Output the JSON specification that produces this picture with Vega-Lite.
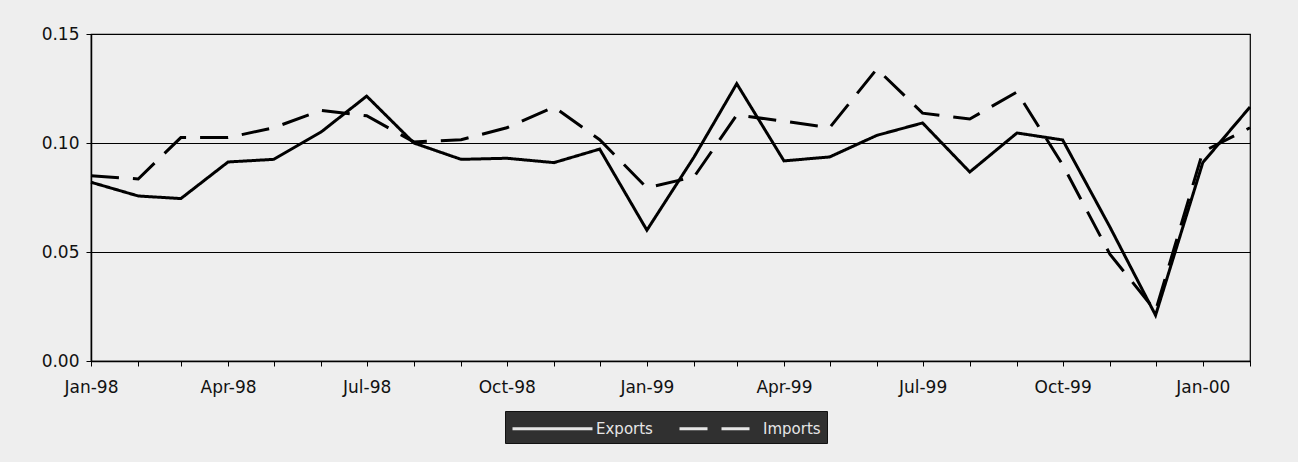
{
  "$schema": "https://vega.github.io/schema/vega-lite/v6.json",
  "width": 1159,
  "height": 327,
  "autosize": {"type": "none"},
  "padding": {"left": 91, "top": 34, "right": 48, "bottom": 101},
  "background": "#eeeeee",
  "config": {
    "view": {"stroke": "#000000", "strokeWidth": 1.2, "fill": "#eeeeee"},
    "font": "DejaVu Sans",
    "axis": {"labelFont": "DejaVu Sans", "labelFontSize": 17, "labelColor": "#111111", "domainColor": "#000000", "tickColor": "#000000", "gridColor": "#000000", "gridOpacity": 1, "gridWidth": 1, "domainWidth": 1.5, "title": null}
  },
  "data": {
    "values": [
      {"date": "1998-01-01", "series": "Exports", "value": 0.082},
      {"date": "1998-02-01", "series": "Exports", "value": 0.0757},
      {"date": "1998-03-01", "series": "Exports", "value": 0.0745},
      {"date": "1998-04-01", "series": "Exports", "value": 0.0913},
      {"date": "1998-05-01", "series": "Exports", "value": 0.0925},
      {"date": "1998-06-01", "series": "Exports", "value": 0.105},
      {"date": "1998-07-01", "series": "Exports", "value": 0.1215},
      {"date": "1998-08-01", "series": "Exports", "value": 0.1},
      {"date": "1998-09-01", "series": "Exports", "value": 0.0925},
      {"date": "1998-10-01", "series": "Exports", "value": 0.093},
      {"date": "1998-11-01", "series": "Exports", "value": 0.091},
      {"date": "1998-12-01", "series": "Exports", "value": 0.0972},
      {"date": "1999-01-01", "series": "Exports", "value": 0.06},
      {"date": "1999-02-01", "series": "Exports", "value": 0.0936},
      {"date": "1999-03-01", "series": "Exports", "value": 0.1272},
      {"date": "1999-04-01", "series": "Exports", "value": 0.0918},
      {"date": "1999-05-01", "series": "Exports", "value": 0.0936},
      {"date": "1999-06-01", "series": "Exports", "value": 0.1035},
      {"date": "1999-07-01", "series": "Exports", "value": 0.1092},
      {"date": "1999-08-01", "series": "Exports", "value": 0.0867},
      {"date": "1999-09-01", "series": "Exports", "value": 0.1046},
      {"date": "1999-10-01", "series": "Exports", "value": 0.1014},
      {"date": "1999-11-01", "series": "Exports", "value": 0.0615},
      {"date": "1999-12-01", "series": "Exports", "value": 0.021},
      {"date": "2000-01-01", "series": "Exports", "value": 0.091},
      {"date": "2000-02-01", "series": "Exports", "value": 0.1165},
      {"date": "1998-01-01", "series": "Imports", "value": 0.085},
      {"date": "1998-02-01", "series": "Imports", "value": 0.0835},
      {"date": "1998-03-01", "series": "Imports", "value": 0.1025},
      {"date": "1998-04-01", "series": "Imports", "value": 0.1025},
      {"date": "1998-05-01", "series": "Imports", "value": 0.107},
      {"date": "1998-06-01", "series": "Imports", "value": 0.115},
      {"date": "1998-07-01", "series": "Imports", "value": 0.1125},
      {"date": "1998-08-01", "series": "Imports", "value": 0.1005},
      {"date": "1998-09-01", "series": "Imports", "value": 0.1015},
      {"date": "1998-10-01", "series": "Imports", "value": 0.107},
      {"date": "1998-11-01", "series": "Imports", "value": 0.1165},
      {"date": "1998-12-01", "series": "Imports", "value": 0.1015},
      {"date": "1999-01-01", "series": "Imports", "value": 0.0794},
      {"date": "1999-02-01", "series": "Imports", "value": 0.0845},
      {"date": "1999-03-01", "series": "Imports", "value": 0.1128},
      {"date": "1999-04-01", "series": "Imports", "value": 0.11},
      {"date": "1999-05-01", "series": "Imports", "value": 0.107},
      {"date": "1999-06-01", "series": "Imports", "value": 0.134},
      {"date": "1999-07-01", "series": "Imports", "value": 0.1137},
      {"date": "1999-08-01", "series": "Imports", "value": 0.111},
      {"date": "1999-09-01", "series": "Imports", "value": 0.1234},
      {"date": "1999-10-01", "series": "Imports", "value": 0.09},
      {"date": "1999-11-01", "series": "Imports", "value": 0.049},
      {"date": "1999-12-01", "series": "Imports", "value": 0.023},
      {"date": "2000-01-01", "series": "Imports", "value": 0.096},
      {"date": "2000-02-01", "series": "Imports", "value": 0.107}
    ]
  },
  "mark": {"type": "line", "color": "#000000", "strokeWidth": 3, "strokeJoin": "miter"},
  "encoding": {
    "x": {
      "field": "date",
      "type": "temporal",
      "scale": {"type": "utc", "domain": [{"year": 1998, "month": 1, "date": 1, "utc": true}, {"year": 2000, "month": 2, "date": 1, "utc": true}], "nice": false},
      "axis": {
        "grid": false,
        "tickCount": {"interval": "month", "step": 1},
        "tickSize": 5,
        "labelPadding": 13,
        "labelOverlap": false,
        "labelFlush": false,
        "labelExpr": "utcmonth(datum.value) % 3 == 0 ? utcFormat(datum.value, '%b-%y') : ''"
      }
    },
    "y": {
      "field": "value",
      "type": "quantitative",
      "scale": {"domain": [0, 0.15], "nice": false, "zero": true},
      "axis": {"values": [0, 0.05, 0.1, 0.15], "format": ".2f", "grid": true, "tickSize": 5, "labelPadding": 7}
    },
    "strokeDash": {
      "field": "series",
      "type": "nominal",
      "scale": {"domain": ["Exports", "Imports"], "range": [[1, 0], [28, 14]]},
      "legend": {
        "title": null,
        "orient": "none",
        "legendX": 414,
        "legendY": 377,
        "direction": "horizontal",
        "fillColor": "#303030",
        "strokeColor": "#111111",
        "padding": 6,
        "symbolType": "M-1,0H7",
        "symbolSize": 400,
        "symbolStrokeWidth": 3,
        "symbolStrokeColor": "#e6e6e6",
        "labelOffset": 62,
        "labelColor": "#e6e6e6",
        "labelFont": "DejaVu Sans",
        "labelFontSize": 15,
        "columnPadding": 20
      }
    }
  }
}
